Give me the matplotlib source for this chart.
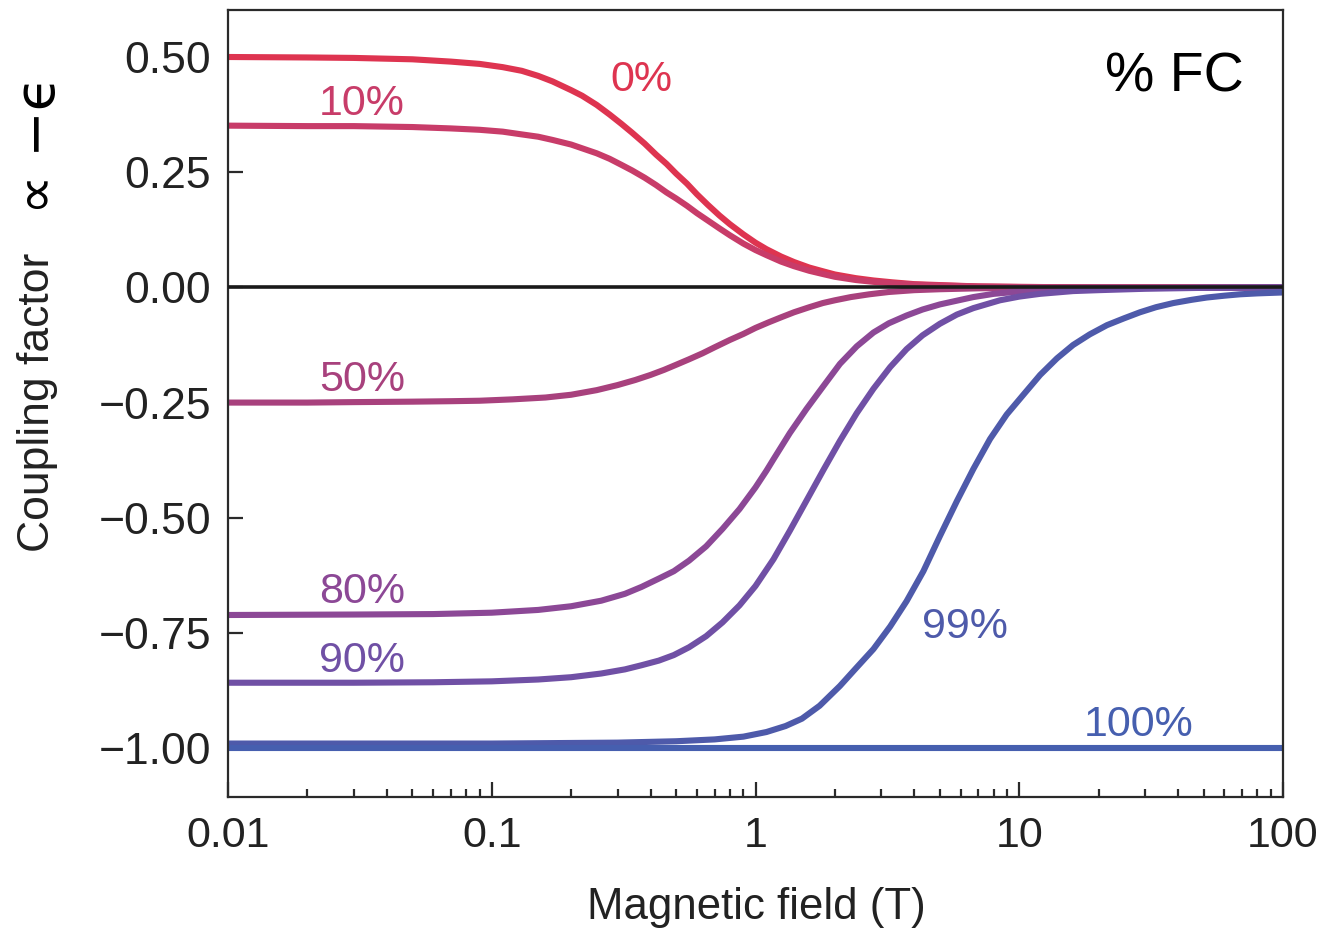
import matplotlib
matplotlib.use("Agg")
import matplotlib.pyplot as plt
from matplotlib.ticker import FixedLocator, LogLocator, FuncFormatter, NullFormatter

plt.rcParams['font.family'] = ['Liberation Sans', 'DejaVu Sans']

# ---- data (x = magnetic field in T) ----
labels = ["0%", "10%", "50%", "80%", "90%", "99%", "100%"]

x_0 = [0.01, 0.02, 0.03, 0.05, 0.07, 0.09, 0.11, 0.13, 0.15, 0.17, 0.2, 0.22, 0.25, 0.28, 0.31,
       0.34, 0.38, 0.42, 0.46, 0.5, 0.55, 0.6, 0.66, 0.73, 0.8, 0.9, 1.0, 1.1, 1.25, 1.4, 1.6,
       1.8, 2.0, 2.4, 2.8, 3.3, 4, 5, 7, 10, 20, 100]
y_0 = [0.500, 0.499, 0.498, 0.495, 0.490, 0.485, 0.478, 0.470, 0.459, 0.447, 0.428, 0.416,
       0.396, 0.375, 0.355, 0.336, 0.312, 0.288, 0.268, 0.247, 0.225, 0.202, 0.179, 0.156,
       0.137, 0.115, 0.097, 0.083, 0.067, 0.055, 0.043, 0.035, 0.028, 0.020, 0.015, 0.011,
       0.007, 0.005, 0.002, 0.001, 0.000, 0.000]

x_10 = [0.01, 0.02, 0.03, 0.05, 0.07, 0.09, 0.11, 0.13, 0.15, 0.17, 0.2, 0.25, 0.28, 0.31, 0.34,
        0.38, 0.42, 0.46, 0.5, 0.55, 0.6, 0.66, 0.73, 0.8, 0.9, 1.0, 1.1, 1.25, 1.4, 1.6, 1.8,
        2.0, 2.4, 2.8, 3.3, 4, 5, 7, 10, 20, 100]
y_10 = [0.351, 0.350, 0.350, 0.348, 0.345, 0.342, 0.338, 0.332, 0.327, 0.320, 0.310, 0.291,
        0.279, 0.266, 0.254, 0.238, 0.222, 0.206, 0.193, 0.177, 0.161, 0.145, 0.128, 0.113,
        0.095, 0.081, 0.070, 0.056, 0.046, 0.036, 0.029, 0.023, 0.016, 0.012, 0.009, 0.006,
        0.004, 0.002, 0.001, 0.000, 0.000]

x_50 = [0.01, 0.02, 0.03, 0.05, 0.07, 0.09, 0.12, 0.16, 0.2, 0.25, 0.3, 0.35, 0.4, 0.45, 0.5,
        0.56, 0.63, 0.7, 0.8, 0.9, 1.0, 1.12, 1.25, 1.4, 1.6, 1.8, 2.0, 2.3, 2.7, 3.2, 4, 5, 7,
        10, 20, 100]
y_50 = [-0.250, -0.250, -0.249, -0.248, -0.247, -0.246, -0.243, -0.239, -0.233, -0.223, -0.212,
        -0.201, -0.190, -0.179, -0.168, -0.156, -0.143, -0.130, -0.114, -0.101, -0.088, -0.076,
        -0.065, -0.054, -0.043, -0.034, -0.028, -0.021, -0.015, -0.010, -0.006, -0.004, -0.002,
        -0.001, 0.000, 0.000]

x_80 = [0.01, 0.03, 0.06, 0.1, 0.15, 0.2, 0.26, 0.32, 0.37, 0.43, 0.49, 0.56, 0.65, 0.75, 0.87,
        1.0, 1.1, 1.17, 1.35, 1.56, 1.81, 2.09, 2.42, 2.8, 3.2, 3.74, 4.3, 5, 6, 6.7, 8, 10, 14,
        20, 40, 100]
y_80 = [-0.711, -0.710, -0.709, -0.706, -0.700, -0.692, -0.680, -0.665, -0.650, -0.632, -0.616,
        -0.593, -0.562, -0.524, -0.481, -0.434, -0.398, -0.373, -0.316, -0.264, -0.214, -0.166,
        -0.128, -0.098, -0.078, -0.061, -0.048, -0.037, -0.027, -0.021, -0.014, -0.009, -0.005,
        -0.002, -0.001, 0.000]

x_90 = [0.01, 0.03, 0.06, 0.1, 0.15, 0.2, 0.26, 0.32, 0.37, 0.43, 0.49, 0.56, 0.65, 0.75, 0.87,
        1.0, 1.17, 1.35, 1.56, 1.81, 2.09, 2.42, 2.8, 3.24, 3.74, 4.3, 5.0, 5.8, 6.7, 8.45, 10,
        12, 16, 20, 30, 50, 100]
y_90 = [-0.858, -0.858, -0.857, -0.855, -0.851, -0.846, -0.838, -0.829, -0.820, -0.810, -0.798,
        -0.781, -0.757, -0.727, -0.690, -0.648, -0.590, -0.528, -0.463, -0.396, -0.333, -0.273,
        -0.220, -0.173, -0.134, -0.104, -0.079, -0.059, -0.045, -0.028, -0.020, -0.014, -0.008,
        -0.006, -0.003, -0.001, 0.000]

x_99 = [0.01, 0.1, 0.3, 0.5, 0.7, 0.9, 1.1, 1.3, 1.5, 1.75, 2.09, 2.4, 2.8, 3.24, 3.74, 4.33,
        5.0, 5.8, 6.7, 7.75, 8.96, 10.4, 12, 13.9, 16, 18.5, 21.5, 25, 28.7, 33, 38.4, 45, 51.4,
        60, 68.7, 80, 100]
y_99 = [-0.990, -0.990, -0.988, -0.985, -0.981, -0.975, -0.965, -0.952, -0.936, -0.908, -0.865,
        -0.827, -0.785, -0.736, -0.681, -0.616, -0.540, -0.464, -0.394, -0.329, -0.276, -0.232,
        -0.190, -0.154, -0.125, -0.102, -0.082, -0.067, -0.054, -0.043, -0.034, -0.027, -0.022,
        -0.018, -0.015, -0.013, -0.011]

x_100 = [0.01, 100]
y_100 = [-1.0, -1.0]

series_x = [x_0, x_10, x_50, x_80, x_90, x_99, x_100]
series_y = [y_0, y_10, y_50, y_80, y_90, y_99, y_100]
colors = ["#DE3450", "#C83C69", "#A8417D", "#8C4896", "#7050A5", "#4E5AAA", "#465FAF"]

# label anchor positions (data coords)
label_x = [0.368, 0.0322, 0.0322, 0.0322, 0.0322, 6.22, 28.4]
label_y = [0.451, 0.399, -0.202, -0.662, -0.810, -0.736, -0.950]

xticks = [0.01, 0.1, 1, 10, 100]
yticks = [0.50, 0.25, 0.00, -0.25, -0.50, -0.75, -1.00]

# ---- figure ----
fig = plt.figure(figsize=(13.24, 9.32), dpi=100)
ax = fig.add_axes([228/1324, 1-797/932, (1283-228)/1324, (797-10)/932])

for xs, ys, c in zip(series_x, series_y, colors):
    ax.plot(xs, ys, color=c, lw=4.4, solid_capstyle='butt', solid_joinstyle='round', zorder=2)

ax.axhline(0, color='#1a1a1a', lw=2.6, zorder=3)

for lab, lx, ly, c in zip(labels, label_x, label_y, colors):
    ax.text(lx, ly, lab, color=c, fontsize=31, ha='center', va='center')

ax.text(38.9, 0.455, "% FC", color='black', fontsize=40, ha='center', va='center')

ax.set_xscale('log')
ax.set_xlim(0.01, 100)
ax.set_ylim(-1.106, 0.602)

ax.xaxis.set_major_locator(FixedLocator(xticks))
ax.xaxis.set_major_formatter(FuncFormatter(lambda v, p: f"{v:g}"))
ax.xaxis.set_minor_locator(LogLocator(base=10, subs=range(2, 10), numticks=20))
ax.xaxis.set_minor_formatter(NullFormatter())
ax.yaxis.set_major_locator(FixedLocator(yticks))
ax.yaxis.set_major_formatter(FuncFormatter(lambda v, p: f"{v:.2f}".replace('-', '\u2212')))

ax.tick_params(axis='both', which='both', direction='in', top=False, right=False,
               colors='#2a2a2a', labelcolor='#222222', labelsize=32, width=1.6)
ax.tick_params(axis='x', which='major', length=11, pad=14, labelsize=31)
ax.tick_params(axis='x', which='minor', length=6)
ax.tick_params(axis='y', which='major', length=11, pad=12)

for s in ax.spines.values():
    s.set_color('#2a2a2a')
    s.set_linewidth(1.6)

fig.text(756/1324, 1-908/932, "Magnetic field (T)", fontsize=31.5, color='#222222',
         ha='center', va='center')
fig.text(38/1324, 1-402/932, "Coupling factor", fontsize=32, color='#222222',
         ha='center', va='center', rotation=90)
fig.text(40/1324, 1-145/932, "\u221d \u2212\u03f5", fontsize=40, color='black',
         family=['DejaVu Sans'], ha='center', va='center', rotation=90)

fig.savefig("out.png", dpi=100)
